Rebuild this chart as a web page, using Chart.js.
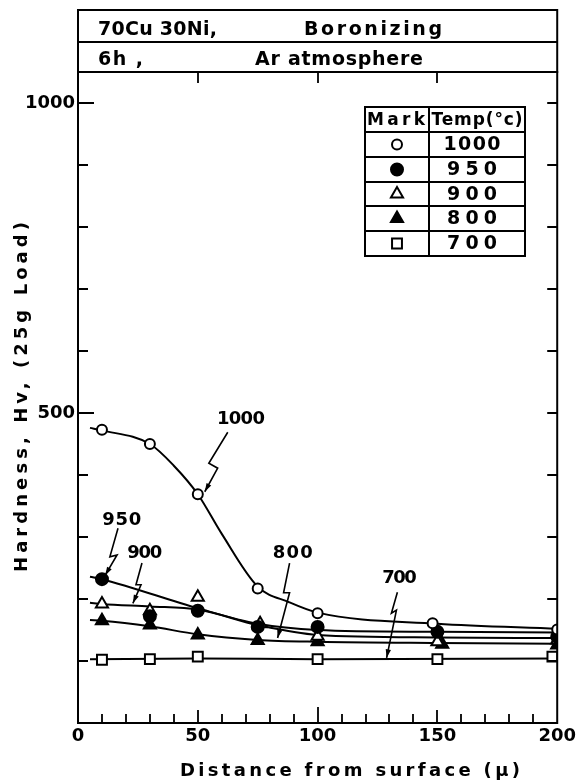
<!DOCTYPE html>
<html>
<head>
<meta charset="utf-8">
<script src="https://cdn.jsdelivr.net/npm/chart.js@4/dist/chart.umd.min.js"></script>
<style>
  html, body { margin: 0; padding: 0; background: #fff; }
  canvas { display: block; }
</style>
</head>
<body>
<canvas id="chart" width="579" height="782"></canvas>
<script>
// Tick labels
const xTickLabels = [0, 50, 100, 150, 200];
const yTickLabels = [500, 1000];
const xMinorTicks = [10, 20, 30, 40, 50, 60, 70, 80, 90, 100, 110, 120, 130, 140, 150, 160, 170, 180, 190];
const yMinorTicks = [100, 200, 300, 400, 500, 600, 700, 800, 900, 1000];
const xTopTicks = [50, 100, 150];

// Series (temperature, degC)
const temps = ['1000', '950', '900', '800', '700'];

// measured points (distance in micron, hardness Hv)
const dist1000 = [10, 30, 50, 75, 100, 148, 200];
const hv1000 = [473, 450, 369, 217, 177, 161, 151];
const dist950 = [10, 30, 50, 75, 100, 150, 200];
const hv950 = [232, 172, 181, 155, 155, 147, 139];
const dist900 = [10, 30, 50, 76, 100, 150, 200];
const hv900 = [192, 181, 203, 160, 140, 131, 134];
const dist800 = [10, 30, 50, 75, 100, 152, 200];
const hv800 = [165, 158, 142, 133, 131, 127, 126];
const dist700 = [10, 30, 50, 100, 150, 198];
const hv700 = [102, 103, 107, 103, 103, 107];

// hand-drawn fit curves
const curveX1000 = [5, 10, 30, 40, 50, 60, 75, 88, 100, 150, 200];
const curveY1000 = [476, 472, 450, 415, 369, 305, 220, 195, 178, 160, 152];
const curveX950 = [5, 10, 50, 75, 100, 150, 200];
const curveY950 = [236, 232, 185, 160, 150, 147, 146];
const curveX900 = [5, 10, 30, 50, 75, 100, 150, 200];
const curveY900 = [194, 192, 188, 183, 158, 142, 138, 137];
const curveX800 = [5, 10, 30, 50, 75, 100, 150, 200];
const curveY800 = [166, 165, 156, 143, 134, 131, 129, 128];
const curveX700 = [5, 50, 100, 200];
const curveY700 = [103, 104, 103, 104];

// annotation labels and their zig-zag leaders, in data units
const noteText = ['1000', '950', '900', '800', '700'];
const noteAt = [[68, 490], [18.3, 327], [27.9, 273], [89.6, 273], [134.2, 234]];
const noteWidth = [48, 39, 35, 40, 34];
const noteLeaders = [
    [[62.5, 469], [54.6, 419], [58.3, 411], [52.9, 373]],
    [[16.7, 314], [13.3, 268], [16.3, 271], [11.3, 238]],
    [[26.7, 258], [24.2, 223], [26.3, 223], [22.9, 193]],
    [[88.3, 258], [85.8, 210], [88.3, 210], [83.3, 137]],
    [[133.3, 211], [130.8, 177], [132.9, 182], [128.8, 105]],
];

const FONT = '"DejaVu Sans", sans-serif';
const BLACK = '#000';

const markStyle = [
    { pointStyle: 'circle', radius: 5, fill: '#fff' },
    { pointStyle: 'circle', radius: 6, fill: BLACK },
    { pointStyle: 'triangle', radius: 7, fill: '#fff' },
    { pointStyle: 'triangle', radius: 7, fill: BLACK },
    { pointStyle: 'rect', radius: 7, fill: '#fff' },
];

const toXY = (xs, ys) => xs.map((x, i) => ({ x, y: ys[i] }));

const marks = [[dist1000, hv1000], [dist950, hv950], [dist900, hv900], [dist800, hv800], [dist700, hv700]];
const curves = [[curveX1000, curveY1000], [curveX950, curveY950], [curveX900, curveY900], [curveX800, curveY800], [curveX700, curveY700]];

const datasets = [];
curves.forEach(([xs, ys], i) => {
    datasets.push({
        label: temps[i] + ' fit',
        data: toXY(xs, ys),
        showLine: true,
        borderColor: BLACK,
        borderWidth: 2,
        pointRadius: 0,
        cubicInterpolationMode: 'monotone',
        order: 2,
    });
});
marks.forEach(([xs, ys], i) => {
    const m = markStyle[i];
    datasets.push({
        label: temps[i],
        data: toXY(xs, ys),
        showLine: false,
        pointStyle: m.pointStyle,
        pointRadius: m.radius,
        pointBackgroundColor: m.fill,
        pointBorderColor: BLACK,
        pointBorderWidth: 2,
        order: 1,
    });
});

// draw text stretched (letter spacing) to span a given width, centred on x
function fitText(ctx, text, x, y, width) {
    ctx.save();
    ctx.letterSpacing = '0px';
    const natural = ctx.measureText(text).width;
    const n = [...text].length;
    const s = n > 1 ? Math.max(-1.5, (width - natural) / (n - 1)) : 0;
    const w = natural + s * (n - 1);
    ctx.letterSpacing = s + 'px';
    ctx.textAlign = 'left';
    ctx.fillText(text, x - w / 2, y);
    ctx.restore();
}

const decor = {
    id: 'decor',
    afterDraw(chart) {
        const { ctx, chartArea: a, scales: { x, y } } = chart;
        ctx.save();
        ctx.strokeStyle = BLACK;
        ctx.fillStyle = BLACK;
        ctx.lineWidth = 2;

        // plot frame
        ctx.strokeRect(a.left, a.top, a.right - a.left, a.bottom - a.top);

        // header box above the plot
        ctx.strokeRect(a.left, 10, a.right - a.left, a.top - 10);
        ctx.beginPath();
        ctx.moveTo(a.left, 42);
        ctx.lineTo(a.right, 42);
        ctx.stroke();
        ctx.font = 'bold 19px ' + FONT;
        ctx.textBaseline = 'alphabetic';
        fitText(ctx, '70Cu 30Ni,', (98 + 217) / 2, 35, 119);
        fitText(ctx, 'Boronizing', (304 + 442) / 2, 35, 138);
        fitText(ctx, '6h ,', (98 + 143) / 2, 65, 45);
        fitText(ctx, 'Ar atmosphere', (255 + 423) / 2, 65, 168);

        // inward ticks
        ctx.lineWidth = 1.8;
        ctx.beginPath();
        yMinorTicks.forEach(v => {
            const py = Math.round(y.getPixelForValue(v));
            const len = yTickLabels.includes(v) ? 16 : 10;
            ctx.moveTo(a.left, py); ctx.lineTo(a.left + len, py);
            ctx.moveTo(a.right, py); ctx.lineTo(a.right - 10, py);
        });
        xMinorTicks.forEach(v => {
            const px = Math.round(x.getPixelForValue(v));
            const len = v === 100 ? 16 : (v % 50 === 0 ? 13 : 9);
            ctx.moveTo(px, a.bottom); ctx.lineTo(px, a.bottom - len);
        });
        xTopTicks.forEach(v => {
            const px = Math.round(x.getPixelForValue(v));
            ctx.moveTo(px, a.top); ctx.lineTo(px, a.top + 11);
        });
        ctx.stroke();

        // axis titles
        ctx.font = 'bold 18px ' + FONT;
        ctx.textBaseline = 'middle';
        fitText(ctx, 'Distance from surface (\u03bc)', 350, 771, 340);
        ctx.save();
        ctx.translate(22, 397);
        ctx.rotate(-Math.PI / 2);
        fitText(ctx, 'Hardness, Hv, (25g Load)', 0, 0, 350);
        ctx.restore();

        // legend table
        const tl = 365, tm = 429, tr = 525;
        const rows = [107, 132, 157, 182, 206, 231, 256];
        ctx.lineWidth = 2;
        ctx.strokeRect(tl, rows[0], tr - tl, rows[rows.length - 1] - rows[0]);
        ctx.beginPath();
        ctx.moveTo(tm, rows[0]); ctx.lineTo(tm, rows[rows.length - 1]);
        rows.slice(1, -1).forEach(r => { ctx.moveTo(tl, r); ctx.lineTo(tr, r); });
        ctx.stroke();
        ctx.font = 'bold 17px ' + FONT;
        fitText(ctx, 'Mark', 396, (rows[0] + rows[1]) / 2 + 1, 58);
        fitText(ctx, 'Temp(\u00b0c)', 477, (rows[0] + rows[1]) / 2 + 1, 91);
        ctx.font = 'bold 19px ' + FONT;
        temps.forEach((t, i) => {
            const cy = (rows[i + 1] + rows[i + 2]) / 2;
            const m = markStyle[i];
            ctx.save();
            ctx.fillStyle = m.fill;
            ctx.strokeStyle = BLACK;
            ctx.lineWidth = 2;
            Chart.helpers.drawPoint(ctx, { pointStyle: m.pointStyle, radius: m.radius, borderWidth: 2, rotation: 0 }, (tl + tm) / 2, cy);
            ctx.restore();
            fitText(ctx, t, 472, cy + 1, t.length === 4 ? 57 : 50);
        });

        // annotation labels with zig-zag leaders
        ctx.font = 'bold 18px ' + FONT;
        ctx.lineWidth = 1.6;
        noteText.forEach((t, i) => {
            fitText(ctx, t, x.getPixelForValue(noteAt[i][0]), y.getPixelForValue(noteAt[i][1]), noteWidth[i]);
            const pts = noteLeaders[i].map(([dx, dy]) => [x.getPixelForValue(dx), y.getPixelForValue(dy)]);
            ctx.beginPath();
            pts.forEach(([px, py], k) => (k ? ctx.lineTo(px, py) : ctx.moveTo(px, py)));
            ctx.stroke();
            const [x1, y1] = pts[pts.length - 2];
            const [x2, y2] = pts[pts.length - 1];
            const ang = Math.atan2(y2 - y1, x2 - x1);
            ctx.beginPath();
            ctx.moveTo(x2, y2);
            ctx.lineTo(x2 - 9 * Math.cos(ang - 0.3), y2 - 9 * Math.sin(ang - 0.3));
            ctx.lineTo(x2 - 9 * Math.cos(ang + 0.3), y2 - 9 * Math.sin(ang + 0.3));
            ctx.closePath();
            ctx.fill();
        });
        ctx.restore();
    },
};

new Chart(document.getElementById('chart'), {
    type: 'scatter',
    data: { datasets },
    options: {
        responsive: false,
        animation: false,
        devicePixelRatio: 1,
        layout: { padding: { top: 72, right: 21, left: 0, bottom: 0 } },
        plugins: {
            legend: { display: false },
            tooltip: { enabled: false },
        },
        scales: {
            x: {
                type: 'linear',
                min: 0,
                max: 200,
                afterBuildTicks: (s) => { s.ticks = xTickLabels.map(v => ({ value: v })); },
                afterFit: (s) => { s.height = 59; },
                ticks: {
                    color: BLACK, font: { family: FONT, size: 18, weight: 'bold' },
                    padding: 3, maxRotation: 0, autoSkip: false,
                    callback: (v) => String(v),
                },
                grid: { display: false, drawTicks: false },
                border: { display: false },
            },
            y: {
                type: 'linear',
                min: 0,
                max: 1050,
                afterBuildTicks: (s) => { s.ticks = yTickLabels.map(v => ({ value: v })); },
                afterFit: (s) => { s.width = 78; },
                ticks: {
                    color: BLACK, font: { family: FONT, size: 18, weight: 'bold' },
                    padding: 3, autoSkip: false,
                    callback: (v) => String(v),
                },
                grid: { display: false, drawTicks: false },
                border: { display: false },
            },
        },
    },
    plugins: [decor],
});
</script>
</body>
</html>
